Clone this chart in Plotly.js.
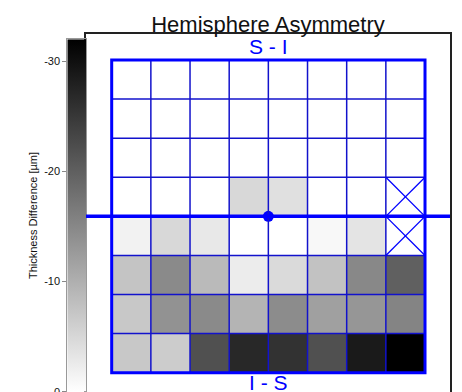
<!DOCTYPE html>
<html>
<head>
<meta charset="utf-8">
<script src="https://cdn.plot.ly/plotly-3.0.1.min.js"></script>
<style>
html, body { margin: 0; padding: 0; overflow: hidden; background: #fff; }
#chart { width: 462px; height: 420px; }
</style>
</head>
<body>
<div id="chart"></div>
<script>
// ---- data ----
const titleText = 'Hemisphere Asymmetry';
const topLabel = 'S - I';
const bottomLabel = 'I - S';
const colorbarTitle = 'Thickness Difference [µm]';
const colorbarTicks = [-30, -20, -10, 0];
const colorbarTickText = ['-30', '-20', '-10', '0'];
const zMin = -32;
const zMax = 0;
// grid rows from top to bottom, 8 columns each (µm); null = no data
const row1 = [0, 0, 0, 0, 0, 0, 0, 0];
const row2 = [0, 0, 0, 0, 0, 0, 0, 0];
const row3 = [0, 0, 0, 0, 0, 0, 0, 0];
const row4 = [0, 0, 0, -4.9, -3.9, 0, 0, null];
const row5 = [-1.6, -4.9, -2.9, 0, 0, -0.9, -3.4, null];
const row6 = [-7.4, -14.7, -8.7, -2.4, -4.6, -7.7, -14.9, -20.0];
const row7 = [-6.9, -13.7, -14.7, -9.4, -14.4, -11.9, -13.2, -15.4];
const row8 = [-6.9, -6.4, -22.0, -27.0, -25.7, -22.0, -28.7, -32.0];
const zRows = [row1, row2, row3, row4, row5, row6, row7, row8];
// cells without data: [column, row]
const missingCells = [[7, 3], [7, 4]];
// fovea / centre marker
const centerX = [4];
const centerY = [4];

// ---- drawing ----
const nCols = zRows[0].length;
const nRows = zRows.length;
const blue = '#0000ff';
const font = 'Liberation Sans, Arial, sans-serif';

const heat = {
  type: 'heatmap',
  z: zRows,
  x0: 0.5, dx: 1, y0: 0.5, dy: 1,
  zmin: zMin, zmax: zMax,
  colorscale: [[0, '#000000'], [1, '#ffffff']],
  showscale: false,
  hoverinfo: 'skip',
  xaxis: 'x', yaxis: 'y'
};

const dot = {
  type: 'scatter', mode: 'markers',
  x: centerX, y: centerY,
  marker: { size: 11, color: blue },
  hoverinfo: 'skip', showlegend: false,
  xaxis: 'x', yaxis: 'y'
};

const bar = {
  type: 'scatter', mode: 'lines',
  x: [0, 1, 1, 0, 0],
  y: [zMax, zMax, zMin, zMin, zMax],
  fill: 'toself',
  fillgradient: { type: 'vertical', colorscale: [[0, '#ffffff'], [1, '#000000']], start: zMax, stop: zMin },
  line: { width: 0 },
  hoverinfo: 'skip', showlegend: false,
  xaxis: 'x2', yaxis: 'y2'
};

const shapes = [];
for (let i = 1; i < nCols; i++) {
  shapes.push({ type: 'line', xref: 'x', yref: 'y', x0: i, x1: i, y0: 0, y1: nRows, line: { color: '#1212cc', width: 1.5 } });
}
for (let j = 1; j < nRows; j++) {
  shapes.push({ type: 'line', xref: 'x', yref: 'y', x0: 0, x1: nCols, y0: j, y1: j, line: { color: '#1212cc', width: 1.5 } });
}
missingCells.forEach(function (c) {
  shapes.push({ type: 'line', xref: 'x', yref: 'y', x0: c[0], x1: c[0] + 1, y0: c[1], y1: c[1] + 1, line: { color: blue, width: 1.3 } });
  shapes.push({ type: 'line', xref: 'x', yref: 'y', x0: c[0], x1: c[0] + 1, y0: c[1] + 1, y1: c[1], line: { color: blue, width: 1.3 } });
});
shapes.push({ type: 'rect', xref: 'x', yref: 'y', x0: 0, x1: nCols, y0: 0, y1: nRows, line: { color: blue, width: 3 } });
shapes.push({ type: 'line', xref: 'x domain', yref: 'y', x0: 0, x1: 1, y0: centerY[0], y1: centerY[0], line: { color: blue, width: 3.5 } });

const layout = {
  width: 462, height: 420,
  margin: { l: 0, r: 12, t: 34, b: 10 },
  paper_bgcolor: '#ffffff', plot_bgcolor: '#ffffff',
  showlegend: false,
  font: { family: font, color: '#111' },
  title: {
    text: titleText,
    font: { family: font, size: 22, color: '#111' },
    xref: 'paper', x: 268 / 450, xanchor: 'center',
    yref: 'container', y: 1 - 24 / 420, yanchor: 'middle'
  },
  xaxis: {
    domain: [86 / 450, 1], range: [-0.656, 8.638],
    showgrid: false, zeroline: false, showticklabels: false, ticks: '',
    showline: true, mirror: true, linecolor: '#222', linewidth: 2, fixedrange: true
  },
  yaxis: {
    range: [8.954, -0.665],
    showgrid: false, zeroline: false, showticklabels: false, ticks: '',
    showline: true, mirror: true, linecolor: '#222', linewidth: 2, fixedrange: true
  },
  xaxis2: {
    domain: [67.3 / 450, 86 / 450], range: [0, 1], anchor: 'y2',
    showgrid: false, zeroline: false, showticklabels: false, ticks: '',
    showline: true, mirror: true, linecolor: '#999', linewidth: 1, fixedrange: true
  },
  yaxis2: {
    domain: [0.0487, 0.9859], range: [zMax, zMin], anchor: 'x2', side: 'left',
    tickvals: colorbarTicks, ticktext: colorbarTickText, ticks: 'outside', ticklen: 4, tickcolor: '#888',
    tickfont: { family: font, size: 11, color: '#111' },
    showgrid: false, zeroline: false,
    showline: true, mirror: true, linecolor: '#999', linewidth: 1, fixedrange: true,
    title: { text: colorbarTitle, font: { family: font, size: 11, color: '#111' }, standoff: 4 }
  },
  shapes: shapes,
  annotations: [
    { text: topLabel, xref: 'x', yref: 'y', x: nCols / 2, y: -0.333, showarrow: false,
      font: { family: font, size: 21, color: blue }, xanchor: 'center', yanchor: 'middle' },
    { text: bottomLabel, xref: 'x', yref: 'y', x: nCols / 2, y: 8.263, showarrow: false,
      font: { family: font, size: 21, color: blue }, xanchor: 'center', yanchor: 'middle' }
  ]
};

Plotly.newPlot('chart', [heat, bar, dot], layout, { displayModeBar: false, staticPlot: true });
</script>
</body>
</html>
